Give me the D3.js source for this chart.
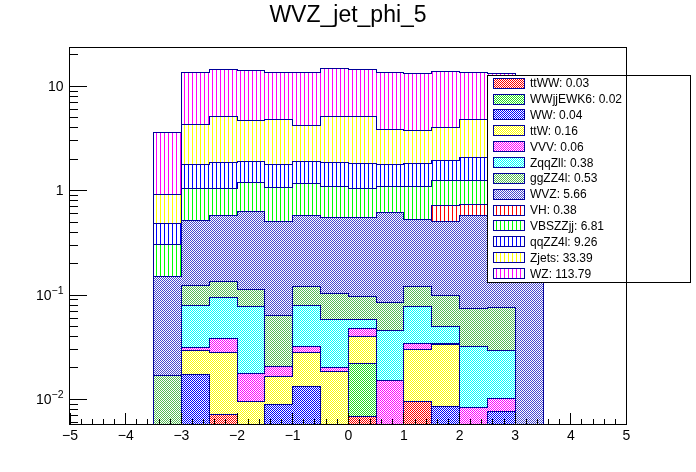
<!DOCTYPE html>
<html>
<head>
<meta charset="utf-8">
<script src="https://cdn.jsdelivr.net/npm/d3@7"></script>
<style>
  body { margin: 0; background: #fff; }
  .graph { position: relative; width: 696px; height: 472px; }
  .graph canvas, .graph svg { position: absolute; left: 0; top: 0; display: block; }
  svg { font-family: "Liberation Sans", Arial, Helvetica, sans-serif; }
</style>
</head>
<body>
<div class="graph"></div>
<script>
// bins of the histogram (low edges, width 0.5)
const binLow = [-3.5, -3, -2.5, -2, -1.5, -1, -0.5, 0, 0.5, 1, 1.5, 2, 2.5, 3];
const binWidth = 0.5;

// stack order, bottom to top (= legend order, top to bottom)
const names = ["ttWW", "WWjjEWK6", "WW", "ttW", "VVV", "ZqqZll", "ggZZ4l", "WVZ", "VH", "VBSZZjj", "qqZZ4l", "Zjets", "WZ"];
const totals = ["0.03", "0.02", "0.04", "0.16", "0.06", "0.38", "0.53", "5.66", "0.38", "6.81", "9.26", "33.39", "113.79"];

// per-bin contents
const ttWW     = [0, 0, 0.00714, 0, 0, 0, 0, 0.00679, 0, 0.00945, 0, 0, 0, 0];
const WWjjEWK6 = [0, 0, 0, 0, 0, 0, 0, 0.0155, 0, 0, 0, 0, 0, 0];
const WW       = [0, 0.0175, 0, 0, 0.0089, 0.0132, 0, 0, 0, 0, 0.00857, 0, 0.00758, 0];
const ttW      = [0, 0.0119, 0.0213, 0.00945, 0.0077, 0.0152, 0.0185, 0.0177, 0, 0.0209, 0.0247, 0, 0, 0];
const VVV      = [0, 0.0020, 0.0096, 0.00842, 0.0041, 0.0040, 0.0017, 0.0081, 0.0151, 0.0043, 0.0010, 0.00834, 0.0027, 0];
const ZqqZll   = [0, 0.0484, 0.0571, 0.0601, 0, 0.0474, 0.0384, 0.0105, 0.0302, 0.0434, 0.0159, 0.0241, 0.0193, 0];
const ggZZ4l   = [0.0169, 0.0440, 0.0401, 0.0354, 0.0433, 0.0400, 0.0452, 0.0386, 0.0399, 0.0420, 0.0491, 0.0416, 0.0460, 0];
const WVZ      = [0.135, 0.393, 0.442, 0.511, 0.442, 0.457, 0.448, 0.450, 0.531, 0.412, 0.410, 0.498, 0.55, 0.15];
const VH       = [0, 0, 0, 0, 0, 0, 0, 0, 0, 0, 0.204, 0.163, 0, 0];
const VBSZZjj  = [0.155, 0.528, 0.468, 0.567, 0.562, 0.589, 0.540, 0.498, 0.482, 0.574, 0.541, 0.519, 0.53, 0.15];
const qqZZ4l   = [0.180, 0.726, 0.806, 0.700, 0.703, 0.726, 0.759, 0.790, 0.696, 0.729, 0.693, 0.840, 0.84, 0.18];
const Zjets    = [0.429, 2.50, 3.31, 2.77, 3.06, 2.29, 3.31, 3.29, 2.03, 1.93, 2.10, 2.67, 2.67, 0.43];
const WZ       = [2.66, 9.13, 9.15, 9.34, 8.57, 9.22, 9.47, 9.29, 9.58, 9.34, 9.65, 8.64, 8.5, 2.7];

const series = [ttWW, WWjjEWK6, WW, ttW, VVV, ZqqZll, ggZZ4l, WVZ, VH, VBSZZjj, qqZZ4l, Zjets, WZ];

const xTicks = [-5, -4, -3, -2, -1, 0, 1, 2, 3, 4, 5];
const yMajor = [0.01, 0.1, 1, 10];
const yLabels = [["10", "\u22122"], ["10", "\u22121"], ["1", ""], ["10", ""]];

// fill styles: "dots" = fine checker, "vlines" = vertical hatching
const styles = {
  ttWW:     {color: "#ff0000", kind: "dots"},
  WWjjEWK6: {color: "#22dd22", kind: "dots"},
  WW:       {color: "#0000ff", kind: "dots"},
  ttW:      {color: "#ffff00", kind: "dots"},
  VVV:      {color: "#ff00ff", kind: "dots"},
  ZqqZll:   {color: "#00ffff", kind: "dots"},
  ggZZ4l:   {color: "#55bb55", kind: "dots"},
  WVZ:      {color: "#4848d0", kind: "dots"},
  VH:       {color: "#ff0000", kind: "vlines"},
  VBSZZjj:  {color: "#00ff00", kind: "vlines"},
  qqZZ4l:   {color: "#0000ff", kind: "vlines"},
  Zjets:    {color: "#ffff00", kind: "vlines"},
  WZ:       {color: "#ff00ff", kind: "vlines"}
};
const lineColor = "#000099";

const W = 696, H = 472;
const div = d3.select(".graph");
// fills are painted pixel by pixel on a canvas so the fine patterns stay sharp
const canvas = div.append("canvas").attr("width", W).attr("height", H);
const svg = div.append("svg").attr("width", W).attr("height", H);

const x = d3.scaleLinear().domain([-5, 5]).range([69.6, 626]);
const yMin = 0.00575, yMax = 23.5;
const y = d3.scaleLog().domain([yMin, yMax]).range([424, 47]);
const axisY = 424;

const px = v => Math.round(x(v));
const py = v => Math.round(y(Math.max(v, yMin)));

//stack the components
const rows = binLow.map((lo, i) => {
  let r = {lo: lo};
  names.forEach((n, k) => r[n] = series[k][i]);
  return r;
});
const stacked = d3.stack().keys(names)(rows);

//pixel painting
const ctx = canvas.node().getContext("2d");
const img = ctx.createImageData(W, H);
const white = [255, 255, 255];
function patternColor(key, i, j) {
  let s = styles[key];
  let c = d3.rgb(s.color);
  let on = s.kind == "dots" ? (i + j) % 2 == 0 : i % 4 == 0;
  return on ? [c.r, c.g, c.b] : white;
}
function paintRect(x0, y0, x1, y1, key) {
  for (let j = y0; j < y1; j++) {
    for (let i = x0; i < x1; i++) {
      let k = (j * W + i) * 4;
      let c = key ? patternColor(key, i, j) : white;
      img.data[k] = c[0]; img.data[k + 1] = c[1]; img.data[k + 2] = c[2]; img.data[k + 3] = 255;
    }
  }
}

//each cumulative sum covers the ones above it, so paint from the top layer down
stacked.slice().reverse().forEach(layer => {
  layer.forEach((d, i) => {
    if (d[1] <= yMin) return;
    paintRect(px(binLow[i]), py(d[1]), px(binLow[i] + binWidth), axisY, layer.key);
  });
});

//legend box and swatches go on the canvas too
const leg = {x0: 487, y0: 75, x1: 691, y1: 283};
paintRect(leg.x0 + 1, leg.y0 + 1, leg.x1 - 1, leg.y1 - 1, null);
const swTop = names.map((n, i) => Math.round(83 + 15.86 * i - 5.3));
names.forEach((n, i) => paintRect(494, swTop[i] + 1, 524, swTop[i] + 10, n));
ctx.putImageData(img, 0, 0);

//outlines of each cumulative sum, kept out of the legend box
svg.append("defs").append("clipPath").attr("id", "noLegend")
  .append("path")
  .attr("clip-rule", "evenodd")
  .attr("d", `M0,0H${W}V${H}H0Z M${leg.x0},${leg.y0}H${leg.x1}V${leg.y1}H${leg.x0}Z`);

const line = d3.line().x(d => d[0] + 0.5).y(d => d[1] + 0.5);
function outline(layer) {
  let pts = [[px(binLow[0]), axisY]];
  layer.forEach((d, i) => {
    pts.push([px(binLow[i]), py(d[1])]);
    pts.push([px(binLow[i] + binWidth), py(d[1])]);
  });
  pts.push([px(binLow[binLow.length - 1] + binWidth), axisY]);
  return line(pts);
}
const hist = svg.append("g").attr("clip-path", "url(#noLegend)");
stacked.slice().reverse().forEach(layer => {
  hist.append("path")
    .attr("d", outline(layer))
    .attr("fill", "none")
    .attr("stroke", lineColor)
    .attr("stroke-width", 1)
    .attr("shape-rendering", "crispEdges");
});

//frame
svg.append("rect")
  .attr("x", 69.5).attr("y", 47.5)
  .attr("width", 556.5).attr("height", 377)
  .attr("fill", "none").attr("stroke", "#000").attr("stroke-width", 1)
  .attr("shape-rendering", "crispEdges");

//x axis
const xMinor = [];
for (let v = -5; v <= 5.0001; v += 0.2) xMinor.push(+v.toFixed(1));
svg.append("g").attr("transform", "translate(0,424.5)")
  .call(d3.axisBottom(x).tickValues(xMinor).tickSizeInner(-5.7).tickSizeOuter(0).tickFormat(""))
  .call(g => g.select(".domain").remove())
  .attr("shape-rendering", "crispEdges");
svg.append("g").attr("transform", "translate(0,424.5)")
  .call(d3.axisBottom(x).tickValues(xTicks).tickSizeInner(-11.3).tickSizeOuter(0).tickPadding(6))
  .call(g => g.select(".domain").remove())
  .call(g => g.selectAll("line").attr("shape-rendering", "crispEdges"))
  .call(g => g.selectAll("text").attr("font-size", 14).attr("font-family", "Liberation Sans, Arial, sans-serif").attr("fill", "#000"));

//y axis
const yMinorVals = [];
for (let e = -3; e <= 1; e++) {
  for (let m = 2; m <= 9; m++) {
    let v = m * Math.pow(10, e);
    if (v > yMin && v < yMax) yMinorVals.push(v);
  }
}
svg.append("g").attr("transform", "translate(69.6,0)")
  .call(d3.axisLeft(y).tickValues(yMinorVals).tickSizeInner(-8.3).tickSizeOuter(0).tickFormat(""))
  .call(g => g.select(".domain").remove())
  .attr("shape-rendering", "crispEdges");
svg.append("g").attr("transform", "translate(69.6,0)")
  .call(d3.axisLeft(y).tickValues(yMajor).tickSizeInner(-17.3).tickSizeOuter(0).tickFormat(""))
  .call(g => g.select(".domain").remove())
  .attr("shape-rendering", "crispEdges");

const yLab = svg.append("g").attr("font-size", 14).attr("text-anchor", "end");
yMajor.forEach((v, i) => {
  let t = yLab.append("text").attr("x", 63.5).attr("y", y(v) + 5);
  t.append("tspan").text(yLabels[i][0]);
  if (yLabels[i][1] != "") {
    t.append("tspan").attr("dy", -6).attr("font-size", 10.5).text(yLabels[i][1]);
  }
});

//legend border, swatch borders, labels
const legend = svg.append("g");
legend.append("rect")
  .attr("x", leg.x0 + 0.5).attr("y", leg.y0 + 0.5)
  .attr("width", leg.x1 - leg.x0 - 1).attr("height", leg.y1 - leg.y0 - 1)
  .attr("fill", "none").attr("stroke", "#000").attr("stroke-width", 1)
  .attr("shape-rendering", "crispEdges");
names.forEach((n, i) => {
  legend.append("rect")
    .attr("x", 493.5).attr("y", swTop[i] + 0.5)
    .attr("width", 31).attr("height", 10)
    .attr("fill", "none")
    .attr("stroke", lineColor).attr("stroke-width", 1)
    .attr("shape-rendering", "crispEdges");
  legend.append("text")
    .attr("x", 530).attr("y", 83 + 15.86 * i + 4.3)
    .attr("font-size", 12)
    .text(n + ": " + totals[i]);
});

//title
svg.append("text")
  .attr("x", 348).attr("y", 22)
  .attr("text-anchor", "middle")
  .attr("font-size", 23)
  .text("WVZ_jet_phi_5");
</script>
</body>
</html>
